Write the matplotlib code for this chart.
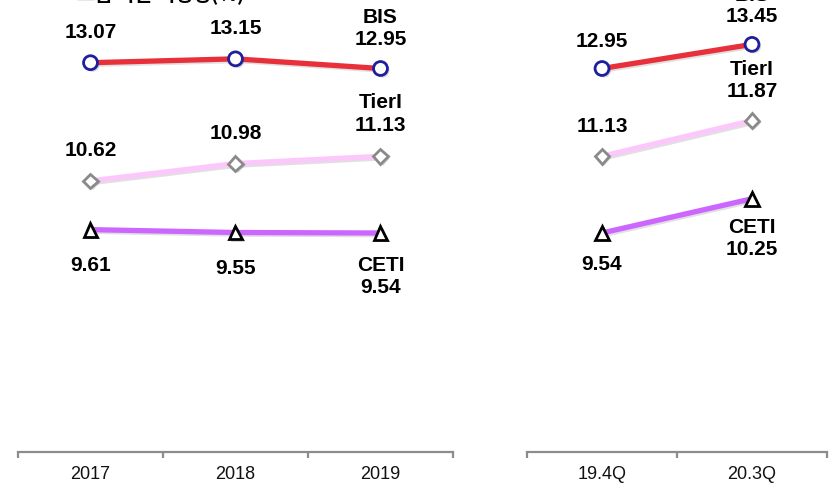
import matplotlib
matplotlib.use("Agg")
import matplotlib.pyplot as plt
import matplotlib.patheffects as pe
from matplotlib import font_manager

# ---- data ----
years = ["2017", "2018", "2019"]
bis_year = [13.07, 13.15, 12.95]
tier_year = [10.62, 10.98, 11.13]
ceti_year = [9.61, 9.55, 9.54]

quarters = ["19.4Q", "20.3Q"]
bis_q = [12.95, 13.45]
tier_q = [11.13, 11.87]
ceti_q = [9.54, 10.25]

title_text = "그룹 자본 적정성(%)"

W, H = 837, 486
fig = plt.figure(figsize=(W / 100, H / 100), dpi=100)

names = {f.name for f in font_manager.fontManager.ttflist}
bold_font = "Liberation Sans" if "Liberation Sans" in names else "DejaVu Sans"
tick_font = "Liberation Sans Narrow" if "Liberation Sans Narrow" in names else bold_font

YMIN, YMAX = 5.0, 14.37
axis_bottom_px = 452

def make_ax(x0, x1, n):
    ax = fig.add_axes([x0 / W, (H - axis_bottom_px) / H, (x1 - x0) / W, axis_bottom_px / H])
    ax.set_xlim(-0.5, n - 0.5)
    ax.set_ylim(YMIN, YMAX)
    for s in ["top", "left", "right"]:
        ax.spines[s].set_visible(False)
    ax.spines["bottom"].set_color("#8c8c8c")
    ax.spines["bottom"].set_linewidth(1.6)
    ax.set_yticks([])
    ax.set_xticks(range(n))
    ax.tick_params(axis="x", which="major", length=0, pad=10)
    ax.set_xticks([i - 0.5 for i in range(n + 1)], minor=True)
    ax.tick_params(axis="x", which="minor", length=4, width=1.6, color="#8c8c8c", direction="out")
    ax.patch.set_alpha(0)
    return ax

mshadow = [pe.SimplePatchShadow(offset=(1.5, -1.5), alpha=0.22), pe.Normal()]
lshadow = [pe.SimpleLineShadow(offset=(1.2, -1.2), alpha=0.12), pe.Normal()]

def draw(ax, cats, bis, tier, ceti):
    x = list(range(len(cats)))
    ax.set_xticklabels(cats, fontsize=13, family=[tick_font, "DejaVu Sans"],
                       color="#111111", stretch="condensed")
    for vals, col, mk, ms, mec in [
        (bis, "#e8303a", "o", 10, "#1f1f9e"),
        (tier, "#fcc8fc", "D", 7.5, "#8a8a8a"),
        (ceti, "#cc66ff", "^", 10, "black"),
    ]:
        ax.plot(x, vals, color=col, lw=3.8, zorder=2, path_effects=lshadow,
                solid_capstyle="butt", clip_on=False)
        ax.plot(x, vals, ls="none", marker=mk, ms=ms, mfc="white", mec=mec, mew=2.0,
                zorder=3, path_effects=mshadow, clip_on=False)

def label(ax, xi, yv, txt, dy):
    ax.annotate(txt, (xi, yv), xytext=(0, dy), textcoords="offset pixels",
                ha="center", va="center", fontsize=15, fontweight="bold",
                family=[bold_font, "DejaVu Sans"], color="black", annotation_clip=False)

axL = make_ax(18, 453, len(years))
draw(axL, years, bis_year, tier_year, ceti_year)
n = len(years)
for i in range(n):
    above_v, below_v = 30, -36
    if i < n - 1:
        label(axL, i, bis_year[i], f"{bis_year[i]:.2f}", above_v)
        label(axL, i, tier_year[i], f"{tier_year[i]:.2f}", above_v)
        label(axL, i, ceti_year[i], f"{ceti_year[i]:.2f}", below_v)
    else:
        label(axL, i, bis_year[i], "BIS", 51)
        label(axL, i, bis_year[i], f"{bis_year[i]:.2f}", 29)
        label(axL, i, tier_year[i], "TierI", 54)
        label(axL, i, tier_year[i], f"{tier_year[i]:.2f}", 31)
        label(axL, i, ceti_year[i], "CETI", -33)
        label(axL, i, ceti_year[i], f"{ceti_year[i]:.2f}", -55)

axR = make_ax(527, 827, len(quarters))
draw(axR, quarters, bis_q, tier_q, ceti_q)
label(axR, 0, bis_q[0], f"{bis_q[0]:.2f}", 27)
label(axR, 0, tier_q[0], f"{tier_q[0]:.2f}", 30)
label(axR, 0, ceti_q[0], f"{ceti_q[0]:.2f}", -32)
label(axR, 1, bis_q[1], "BIS", 49)
label(axR, 1, bis_q[1], f"{bis_q[1]:.2f}", 28)
label(axR, 1, tier_q[1], "TierI", 51)
label(axR, 1, tier_q[1], f"{tier_q[1]:.2f}", 29)
label(axR, 1, ceti_q[1], "CETI", -29)
label(axR, 1, ceti_q[1], f"{ceti_q[1]:.2f}", -51)

fig.text(77 / W, (H - 0) / H, title_text, ha="left", va="baseline", fontsize=14,
         fontweight="bold", family=["Noto Sans CJK KR", "DejaVu Sans"], color="black")

fig.savefig("out.png", dpi=100, facecolor="white")
